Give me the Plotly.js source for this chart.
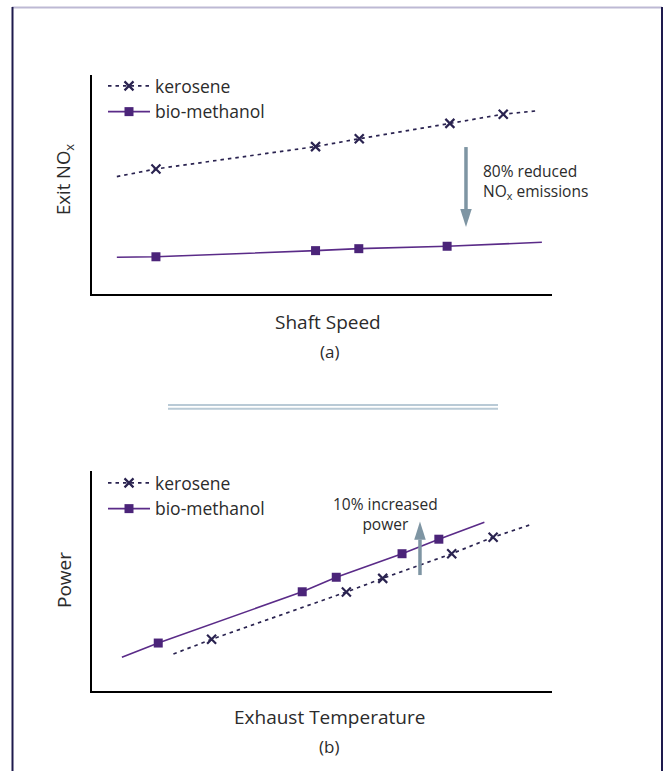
<!DOCTYPE html>
<html>
<head>
<meta charset="utf-8">
<script src="https://cdn.plot.ly/plotly-3.0.1.min.js"></script>
<style>html,body{margin:0;padding:0;background:#fff;}#chart{width:664px;height:771px;}</style>
</head>
<body>
<div id="chart"></div>
<script>
// ---- Data (arbitrary units 0-100) ----
// (a) Exit NOx vs Shaft Speed
const speedKero = [13.9, 48.6, 58.1, 77.8, 89.4];
const noxKero   = [57.1, 67.3, 70.9, 77.9, 82.1];
const speedKeroLine = [5.4, 13.9, 48.6, 58.1, 77.8, 89.4, 97.0];
const noxKeroLine   = [53.6, 57.1, 67.3, 70.9, 77.9, 82.1, 83.7];
const speedBio  = [13.9, 48.6, 58.0, 77.2];
const noxBio    = [17.0, 19.8, 20.7, 21.8];
const speedBioLine = [5.4, 13.9, 48.6, 58.0, 77.2, 97.8];
const noxBioLine   = [16.8, 17.0, 19.8, 20.7, 21.8, 23.6];
// (b) Power vs Exhaust Temperature
const tempBio   = [14.4, 45.7, 53.1, 67.4, 75.4];
const powerBio  = [21.8, 45.1, 51.7, 62.4, 69.0];
const tempBioLine  = [6.5, 14.4, 45.7, 53.1, 67.4, 75.4, 85.3];
const powerBioLine = [15.3, 21.8, 45.1, 51.7, 62.4, 69.0, 76.7];
const tempKero  = [26.0, 55.3, 63.2, 78.2, 87.2];
const powerKero = [23.5, 45.0, 51.2, 62.4, 69.9];
const tempKeroLine  = [17.7, 26.0, 55.3, 63.2, 78.2, 87.2, 95.6];
const powerKeroLine = [16.8, 23.5, 45.0, 51.2, 62.4, 69.9, 75.8];

const seriesNames = ['kerosene', 'bio-methanol'];

// ---- Styles ----
const keroColor = '#2a2350';
const bioColor = '#5a2b88';
const bioFill = '#4b2479';
const FONT = '"Open Sans", "Noto Sans", sans-serif';
const textColor = '#2b2b2b';
const arrowColor = '#7e95a3';

const keroLine = {color: keroColor, width: 1.7, dash: '3.5px,4px'};
const bioLine = {color: bioColor, width: 1.6};
const keroMarker = {symbol: 'x-thin', size: 9, line: {color: keroColor, width: 2.2}, color: keroColor};
const bioMarker = {symbol: 'square', size: 9, color: bioFill, line: {width: 0}};

function lineTrace(x, y, line, xa, ya) {
  return {x, y, mode: 'lines', line, xaxis: xa, yaxis: ya, showlegend: false, hoverinfo: 'skip'};
}
function markTrace(x, y, marker, xa, ya) {
  return {x, y, mode: 'markers', marker, xaxis: xa, yaxis: ya, showlegend: false};
}
function legendTrace(name, line, marker, xa, ya, leg) {
  return {x: [null], y: [null], name, mode: 'lines+markers', line, marker, xaxis: xa, yaxis: ya, legend: leg, showlegend: true};
}

const traces = [
  lineTrace(speedKeroLine, noxKeroLine, keroLine, 'x', 'y'),
  markTrace(speedKero, noxKero, keroMarker, 'x', 'y'),
  lineTrace(speedBioLine, noxBioLine, bioLine, 'x', 'y'),
  markTrace(speedBio, noxBio, bioMarker, 'x', 'y'),
  legendTrace(seriesNames[0], keroLine, keroMarker, 'x', 'y', 'legend'),
  legendTrace(seriesNames[1], bioLine, bioMarker, 'x', 'y', 'legend'),

  lineTrace(tempKeroLine, powerKeroLine, keroLine, 'x2', 'y2'),
  markTrace(tempKero, powerKero, keroMarker, 'x2', 'y2'),
  lineTrace(tempBioLine, powerBioLine, bioLine, 'x2', 'y2'),
  markTrace(tempBio, powerBio, bioMarker, 'x2', 'y2'),
  legendTrace(seriesNames[0], keroLine, keroMarker, 'x2', 'y2', 'legend2'),
  legendTrace(seriesNames[1], bioLine, bioMarker, 'x2', 'y2', 'legend2'),
];

const W = 664, H = 771;
const px = v => v / W;
const py = v => 1 - v / H;

const axBase = {
  range: [0, 100], fixedrange: true, showline: true, linecolor: '#000', linewidth: 2,
  showgrid: false, zeroline: false, showticklabels: false, ticks: ''
};

function arrowShapes(xa, ya, x, yStart, yBase, yTip, hw) {
  return [
    {type: 'line', xref: xa, yref: ya, x0: x, x1: x, y0: yStart, y1: yBase, line: {color: arrowColor, width: 3.5}},
    {type: 'path', xref: xa, yref: ya, path: `M${x - hw},${yBase} L${x + hw},${yBase} L${x},${yTip} Z`, fillcolor: arrowColor, line: {width: 0}}
  ];
}

const legFont = {size: 17.5, family: FONT, color: textColor};

const layout = {
  width: W, height: H,
  margin: {l: 0, r: 0, t: 0, b: 0},
  paper_bgcolor: '#fff', plot_bgcolor: 'rgba(0,0,0,0)',
  font: {family: FONT, color: textColor},
  xaxis: Object.assign({}, axBase, {domain: [px(92), px(552)], anchor: 'y'}),
  yaxis: Object.assign({}, axBase, {domain: [py(294), py(75)], anchor: 'x'}),
  xaxis2: Object.assign({}, axBase, {domain: [px(92), px(552)], anchor: 'y2'}),
  yaxis2: Object.assign({}, axBase, {domain: [py(691), py(471)], anchor: 'x2'}),
  legend: {x: px(103), y: py(68), xanchor: 'left', yanchor: 'top', bgcolor: 'rgba(0,0,0,0)',
           font: legFont, itemwidth: 42, tracegroupgap: 0},
  legend2: {x: px(103), y: py(465), xanchor: 'left', yanchor: 'top', bgcolor: 'rgba(0,0,0,0)',
           font: legFont, itemwidth: 42, tracegroupgap: 0},
  annotations: [
    {xref: 'paper', yref: 'paper', x: px(64), y: py(180), text: 'Exit NO<sub>x</sub>', textangle: -90,
     showarrow: false, font: {size: 18.5}, xanchor: 'center', yanchor: 'middle'},
    {xref: 'paper', yref: 'paper', x: px(328), y: py(322), text: 'Shaft Speed',
     showarrow: false, font: {size: 19}, xanchor: 'center', yanchor: 'middle'},
    {xref: 'paper', yref: 'paper', x: px(329), y: py(352), text: '(a)',
     showarrow: false, font: {size: 17}, xanchor: 'center', yanchor: 'middle'},
    {xref: 'x', yref: 'y', x: 84.5, y: 51.5, text: '80% reduced<br>NO<sub>x</sub> emissions', align: 'left',
     showarrow: false, font: {size: 15.5}, xanchor: 'left', yanchor: 'middle'},
    {xref: 'paper', yref: 'paper', x: px(64), y: py(580), text: 'Power', textangle: -90,
     showarrow: false, font: {size: 19}, xanchor: 'center', yanchor: 'middle'},
    {xref: 'paper', yref: 'paper', x: px(329), y: py(717), text: 'Exhaust Temperature',
     showarrow: false, font: {size: 19}, xanchor: 'center', yanchor: 'middle'},
    {xref: 'paper', yref: 'paper', x: px(329), y: py(746), text: '(b)',
     showarrow: false, font: {size: 17}, xanchor: 'center', yanchor: 'middle'},
    {xref: 'x2', yref: 'y2', x: 63.8, y: 80.3, text: '10% increased<br>power', align: 'center',
     showarrow: false, font: {size: 15.5}, xanchor: 'center', yanchor: 'middle'}
  ],
  shapes: [
    // outer frame
    {type: 'line', xref: 'paper', yref: 'paper', x0: px(12), x1: px(662), y0: py(7.5), y1: py(7.5), line: {color: '#bdb9d4', width: 2}},
    {type: 'line', xref: 'paper', yref: 'paper', x0: px(12.5), x1: px(12.5), y0: py(7), y1: 0, line: {color: '#1e1a4d', width: 2}},
    {type: 'line', xref: 'paper', yref: 'paper', x0: px(662), x1: px(662), y0: py(7), y1: 0, line: {color: '#1e1a4d', width: 2}},
    // separator double line
    {type: 'line', xref: 'paper', yref: 'paper', x0: px(168), x1: px(498), y0: py(405), y1: py(405), line: {color: '#b9cad6', width: 2}},
    {type: 'line', xref: 'paper', yref: 'paper', x0: px(168), x1: px(498), y0: py(408.7), y1: py(408.7), line: {color: '#b9cad6', width: 2}},
  ].concat(
    arrowShapes('x', 'y', 81.3, 67.1, 38.8, 30.6, 1.25),
    arrowShapes('x2', 'y2', 71.3, 52.7, 68.8, 77.0, 1.25)
  )
};

Plotly.newPlot('chart', traces, layout, {displayModeBar: false, staticPlot: true});
</script>
</body>
</html>
